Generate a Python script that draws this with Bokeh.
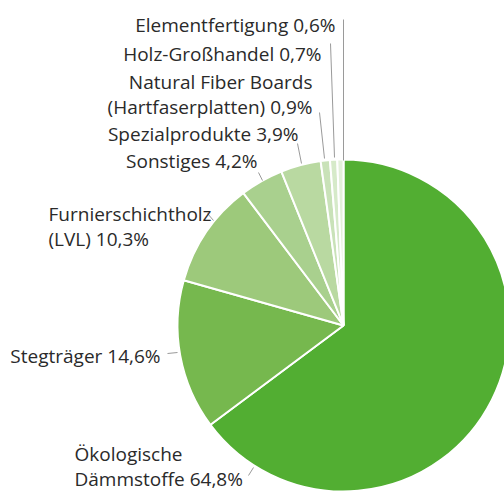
import math
from bokeh.plotting import figure
from bokeh.models import Range1d, ColumnDataSource
from bokeh.embed import file_html
from bokeh.resources import INLINE
from bokeh.core.properties import value

# ---- data ----
categories = [
    "Ökologische\nDämmstoffe 64,8%",
    "Stegträger 14,6%",
    "Furnierschichtholz\n(LVL) 10,3%",
    "Sonstiges 4,2%",
    "Spezialprodukte 3,9%",
    "Natural Fiber Boards\n(Hartfaserplatten) 0,9%",
    "Holz-Großhandel 0,7%",
    "Elementfertigung 0,6%",
]
shares = [64.8, 14.6, 10.3, 4.2, 3.9, 0.9, 0.7, 0.6]

# ---- style / layout ----
colors = ["#52ae32", "#76b84e", "#9dc97b", "#a9d08e", "#b9d9a1", "#c9e2b8", "#d6eac9", "#e3f0da"]
W, H = 504, 491
PAGE = 0
def fx(px): return px - PAGE
def fy(py): return H + PAGE - py

CX, CY, R = fx(343), fy(325), 166

# label anchors (page px): x, first line centre y, align ; leader (outer pt, inner pt)
label_layout = [
    (74, 453, "left", (248, 475), (253, 467)),
    (160, 355, "right", (167, 353), (177, 352)),
    (48, 213, "left", (207, 213), (213, 220)),
    (257, 160, "right", (258, 172), (262, 180)),
    (298, 133, "right", (297, 143), (301, 163)),
    (312, 81, "right", (319, 112), (324, 158)),
    (321, 53, "right", (330, 43), (334, 157)),
    (335, 24, "right", (343, 19), (343, 160)),
]
LINE_GAP = 25
FONT = "Open Sans"
FONT_SIZE = "19px"

# ---- wedges ----
total = sum(shares)
starts, ends = [], []
cum = 0.0
for s in shares:
    a0 = math.pi / 2 - 2 * math.pi * cum / total
    cum += s
    a1 = math.pi / 2 - 2 * math.pi * cum / total
    starts.append(a1)
    ends.append(a0)

src = ColumnDataSource(dict(x=[CX] * len(shares), y=[CY] * len(shares),
                            start=starts, end=ends, color=colors))

p = figure(width=W, height=H, output_backend="svg", toolbar_location=None,
           x_range=Range1d(0, W), y_range=Range1d(0, H), min_border=0)
p.axis.visible = False
p.grid.visible = False
p.outline_line_color = None
p.background_fill_color = "white"

p.wedge(x="x", y="y", radius=R, start_angle="start", end_angle="end",
        fill_color="color", line_color="white", line_width=2, source=src)

# leaders
xs, ys = [], []
for (_, _, _, outer, inner) in label_layout:
    xs.append([fx(outer[0]), fx(inner[0])])
    ys.append([fy(outer[1]), fy(inner[1])])
p.multi_line(xs=xs, ys=ys, line_color="#9a9a9a", line_width=1)

# labels
tx, ty, tt, ta = [], [], [], []
for lab, (lx, ly, al, _, _) in zip(categories, label_layout):
    for i, line in enumerate(lab.split("\n")):
        tx.append(fx(lx)); ty.append(fy(ly + i * LINE_GAP)); tt.append(line); ta.append(al)
tsrc = ColumnDataSource(dict(x=tx, y=ty, t=tt, a=ta))
p.text(x="x", y="y", text="t", text_align="a", text_baseline="middle",
       text_font=value(FONT), text_font_size=FONT_SIZE, text_color="#2a2a2a", source=tsrc)

open("out.html", "w").write(file_html(p, INLINE))
